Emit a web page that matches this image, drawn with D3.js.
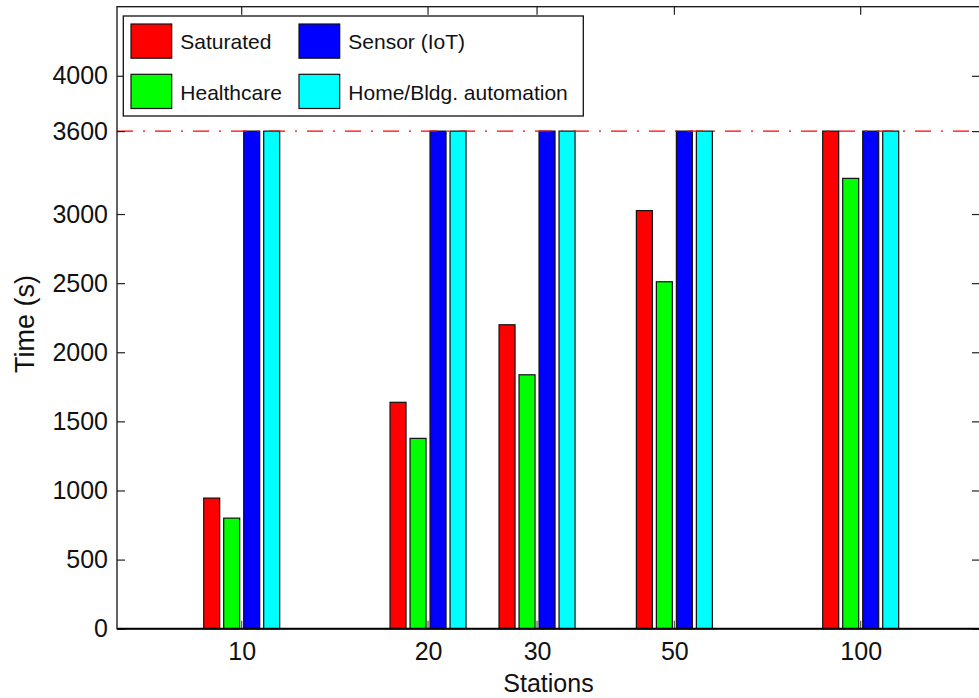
<!DOCTYPE html>
<html>
<head>
<meta charset="utf-8">
<script src="https://cdn.jsdelivr.net/npm/d3@7"></script>
<style>
  html, body { margin: 0; padding: 0; background: #fff; }
  svg { display: block; font-family: "Liberation Sans", Arial, Helvetica, sans-serif; }
</style>
</head>
<body>
<svg id="chart" width="979" height="698"></svg>
<script>
// Stations on a logarithmic x axis
const stations = [10, 20, 30, 50, 100];
const seriesNames = ["Saturated", "Healthcare", "Sensor (IoT)", "Home/Bldg. automation"];
const seriesColors = ["#ff0000", "#00ff00", "#0000ff", "#00ffff"];

// Time (s) for each scenario
const saturated = [945, 1638, 2199, 3025, 3600];
const healthcare = [800, 1377, 1837, 2510, 3258];
const sensorIoT = [3600, 3600, 3600, 3600, 3600];
const homeAutomation = [3600, 3600, 3600, 3600, 3600];

const yTicks = [0, 500, 1000, 1500, 2000, 2500, 3000, 3600, 4000];
const limitTime = 3600;

const seriesValues = [saturated, healthcare, sensorIoT, homeAutomation];

const svg = d3.select("#chart");

// plot frame
const frame = { left: 117, right: 980, top: 6.7, bottom: 628.7 };

const x = d3.scaleLog().domain([10, 100]).range([241.7, 860.7]);
const y = d3.scaleLinear().domain([0, 4500]).range([frame.bottom, frame.top]);

// bars within a group, offset in pixels around the station position
const inner = d3.scaleBand().domain(seriesNames).range([-40, 40]).paddingInner(0.2).paddingOuter(0.1);

const rows = [];
stations.forEach((s, i) => {
  seriesNames.forEach((name, k) => {
    rows.push({ station: s, series: name, color: seriesColors[k], value: seriesValues[k][i] });
  });
});

const tickLen = 8;

// ticks (drawn under bars)
const axesG = svg.append("g");
axesG.selectAll("line.xtb").data(stations).join("line")
  .attr("x1", d => x(d)).attr("x2", d => x(d))
  .attr("y1", frame.bottom).attr("y2", frame.bottom - tickLen)
  .attr("stroke", "#555").attr("stroke-width", 1.2);
axesG.selectAll("line.xtt").data(stations).join("line")
  .attr("x1", d => x(d)).attr("x2", d => x(d))
  .attr("y1", frame.top).attr("y2", frame.top + tickLen)
  .attr("stroke", "#222").attr("stroke-width", 1.2);

// bars
svg.append("g").selectAll("rect").data(rows).join("rect")
  .attr("x", d => x(d.station) + inner(d.series))
  .attr("width", inner.bandwidth())
  .attr("y", d => y(d.value))
  .attr("height", d => y(0) - y(d.value))
  .attr("fill", d => d.color)
  .attr("stroke", "#111")
  .attr("stroke-width", 1.2);

// limit line at 3600 s
svg.append("line")
  .attr("x1", frame.left).attr("x2", frame.right)
  .attr("y1", y(limitTime)).attr("y2", y(limitTime))
  .attr("stroke", "#ff0000").attr("stroke-width", 1.3)
  .attr("stroke-dasharray", "16,10,2,10");

// y axis ticks on both sides
const yAxisL = d3.axisLeft(y).tickValues(yTicks).tickSize(-tickLen).tickPadding(9).tickFormat(d3.format("d"));
const yAxisR = d3.axisRight(y).tickValues(yTicks).tickSize(-tickLen).tickFormat("");
const gL = svg.append("g").attr("transform", `translate(${frame.left},0)`).call(yAxisL);
const gR = svg.append("g").attr("transform", `translate(${frame.right},0)`).call(yAxisR);
[gL, gR].forEach(g => {
  g.select(".domain").remove();
  g.selectAll(".tick line").attr("stroke", "#222").attr("stroke-width", 1.2);
});
gL.selectAll(".tick text").attr("font-size", 25).attr("fill", "#111")
  .attr("font-family", "'Liberation Sans', Arial, sans-serif");

// x tick labels
const xAxis = d3.axisBottom(x).tickValues(stations).tickSize(0).tickPadding(14).tickFormat(d3.format("d"));
const gX = svg.append("g").attr("transform", `translate(0,${frame.bottom})`).call(xAxis);
gX.select(".domain").remove();
gX.selectAll(".tick text").attr("font-size", 25).attr("fill", "#111")
  .attr("font-family", "'Liberation Sans', Arial, sans-serif");

// frame
svg.append("rect")
  .attr("x", frame.left).attr("y", frame.top)
  .attr("width", frame.right - frame.left).attr("height", frame.bottom - frame.top)
  .attr("fill", "none").attr("stroke", "#111").attr("stroke-width", 1.3);
svg.append("line")
  .attr("x1", frame.left).attr("x2", frame.right)
  .attr("y1", frame.bottom).attr("y2", frame.bottom)
  .attr("stroke", "#000").attr("stroke-width", 2);

// axis titles
svg.append("text")
  .attr("x", (frame.left + frame.right) / 2).attr("y", 691.5)
  .attr("text-anchor", "middle").attr("font-size", 25).attr("fill", "#111")
  .text("Stations");
svg.append("text")
  .attr("transform", `translate(33.5,${324}) rotate(-90)`)
  .attr("text-anchor", "middle").attr("font-size", 27).attr("fill", "#111")
  .text("Time (s)");

// legend
const legend = svg.append("g");
legend.append("rect")
  .attr("x", 123.3).attr("y", 16).attr("width", 460).attr("height", 100)
  .attr("fill", "#fff").attr("stroke", "#111").attr("stroke-width", 1.3);
const legendCols = [131, 299];
const legendRows = [24, 74.3];
const legendItems = seriesNames.map((name, k) => ({
  name, color: seriesColors[k],
  col: k < 2 ? 0 : 1, row: k % 2
}));
const li = legend.selectAll("g.item").data(legendItems).join("g")
  .attr("transform", d => `translate(${legendCols[d.col]},${legendRows[d.row]})`);
li.append("rect")
  .attr("width", 40.7).attr("height", 34.2)
  .attr("fill", d => d.color).attr("stroke", "#111").attr("stroke-width", 1.2);
li.append("text")
  .attr("x", 49.3).attr("y", 25.3)
  .attr("font-size", 21).attr("fill", "#111")
  .text(d => d.name);
</script>
</body>
</html>
